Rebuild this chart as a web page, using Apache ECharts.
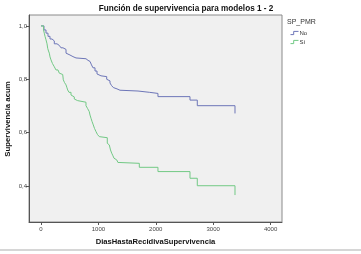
<!DOCTYPE html>
<html>
<head>
<meta charset="utf-8">
<script src="https://cdn.jsdelivr.net/npm/echarts@6/dist/echarts.min.js"></script>
<style>
html,body{margin:0;padding:0;background:#fff;}
#c{width:361px;height:254px;}
</style>
</head>
<body>
<div id="c"></div>
<script>
// Kaplan-Meier step points [days, cumulative survival]
const seriesNames = ['No', 'Sí'];
const noDays = [0,17,52,87,122,157,192,232,279,319,348,383,436,470,505,557,610,784,819,854,880,906,941,976,1010,1045,1145,1167,1202,1228,1260,1289,1324,1376,1690,1895,2038,2596,2723,3380];
const noSurv = [1.0,1.0,0.985,0.973,0.961,0.951,0.944,0.933,0.927,0.923,0.918,0.912,0.898,0.891,0.885,0.880,0.877,0.871,0.867,0.861,0.854,0.843,0.831,0.820,0.813,0.810,0.800,0.794,0.786,0.777,0.769,0.764,0.759,0.756,0.751,0.747,0.735,0.722,0.701,0.672];
const siDays = [0,17,44,57,70,87,105,117,131,145,157,174,200,232,261,296,319,348,378,389,409,436,453,465,488,523,549,580,610,639,784,810,841,854,871,889,911,932,958,984,1016,1037,1155,1172,1190,1211,1232,1254,1272,1298,1319,1341,1376,1713,2038,2596,2723,3380];
const siSurv = [1.0,1.0,0.985,0.973,0.961,0.948,0.933,0.916,0.906,0.898,0.884,0.873,0.859,0.847,0.835,0.828,0.823,0.818,0.814,0.798,0.788,0.779,0.768,0.760,0.751,0.741,0.734,0.726,0.720,0.714,0.701,0.691,0.679,0.666,0.654,0.642,0.629,0.616,0.604,0.593,0.585,0.581,0.560,0.554,0.547,0.535,0.523,0.513,0.504,0.498,0.494,0.488,0.485,0.470,0.454,0.429,0.401,0.366];
const xTicks = [0, 1000, 2000, 3000, 4000];
const yTicks = [0.4, 0.6, 0.8, 1.0];
const yName = 'Supervivencia acum';
const colors = ['#6d76b8', '#72c985'];

const zip = (a, b) => a.map((v, i) => [v, b[i]]);
const font = 'Liberation Sans, Arial, sans-serif';
const stepIcon = 'path://M0,4 L4,4 L4,0 L10,0';

const chart = echarts.init(document.getElementById('c'), null, {renderer: 'canvas'});
chart.setOption({
  animation: false,
  backgroundColor: '#ffffff',
  title: [
    {text: 'Función de supervivencia para modelos 1 - 2', left: 186, top: 5, textAlign: 'center',
     textStyle: {fontFamily: font, fontSize: 8.2, fontWeight: 'bold', color: '#111'}, padding: 0},
    {text: 'SP_PMR', left: 287, top: 19, padding: 0,
     textStyle: {fontFamily: font, fontSize: 7, fontWeight: 'normal', color: '#333'}}
  ],
  legend: {
    orient: 'vertical', left: 290, top: 30, itemWidth: 8, itemHeight: 4, itemGap: 3, padding: 0,
    textStyle: {fontFamily: font, fontSize: 6, color: '#333', padding: [0,0,0,-4]},
    data: seriesNames.map((n, i) => ({name: n, icon: stepIcon,
      itemStyle: {color: 'rgba(0,0,0,0)', borderColor: colors[i], borderWidth: 1}}))
  },
  grid: {left: 29, right: 79, top: 15, bottom: 32, show: true, backgroundColor: '#f0f0f0',
         borderColor: '#8a8a8a', borderWidth: 1, containLabel: false, outerBoundsMode: 'none'},
  xAxis: {
    type: 'value', min: -209, max: 4199,
    name: 'DiasHastaRecidivaSupervivencia', nameLocation: 'middle', nameGap: 16,
    nameTextStyle: {fontFamily: font, fontSize: 7.6, fontWeight: 'bold', color: '#111'},
    axisLine: {show: true, onZero: false, lineStyle: {color: '#555', width: 1}},
    axisTick: {show: true, length: 3, customValues: xTicks, lineStyle: {color: '#555'}},
    axisLabel: {customValues: xTicks, fontFamily: font, fontSize: 6, color: '#444', margin: 4,
                formatter: v => String(Math.round(v))},
    splitLine: {show: false}
  },
  yAxis: {
    type: 'value', min: 0.265, max: 1.041,
    axisLine: {show: true, onZero: false, lineStyle: {color: '#555', width: 1}},
    axisTick: {show: true, length: 3, customValues: yTicks, lineStyle: {color: '#555'}},
    axisLabel: {customValues: yTicks, fontFamily: font, fontSize: 6, color: '#444', margin: 2,
                formatter: v => v.toFixed(1).replace('.', ',')},
    splitLine: {show: false}
  },
  graphic: [
    {type: 'rect', shape: {x: 0, y: 249, width: 361, height: 2}, style: {fill: '#d6d6d6'}},
    {type: 'text', x: 8, y: 119, rotation: Math.PI / 2,
     style: {text: yName, align: 'center', verticalAlign: 'middle', fill: '#111',
             font: 'bold 7.8px Liberation Sans, Arial, sans-serif'}}
  ],
  series: [
    {name: seriesNames[0], type: 'line', step: 'end', data: zip(noDays, noSurv), showSymbol: false,
     symbol: 'none', lineStyle: {color: colors[0], width: 1}, itemStyle: {color: colors[0]}},
    {name: seriesNames[1], type: 'line', step: 'end', data: zip(siDays, siSurv), showSymbol: false,
     symbol: 'none', lineStyle: {color: colors[1], width: 1}, itemStyle: {color: colors[1]}}
  ]
});
</script>
</body>
</html>
